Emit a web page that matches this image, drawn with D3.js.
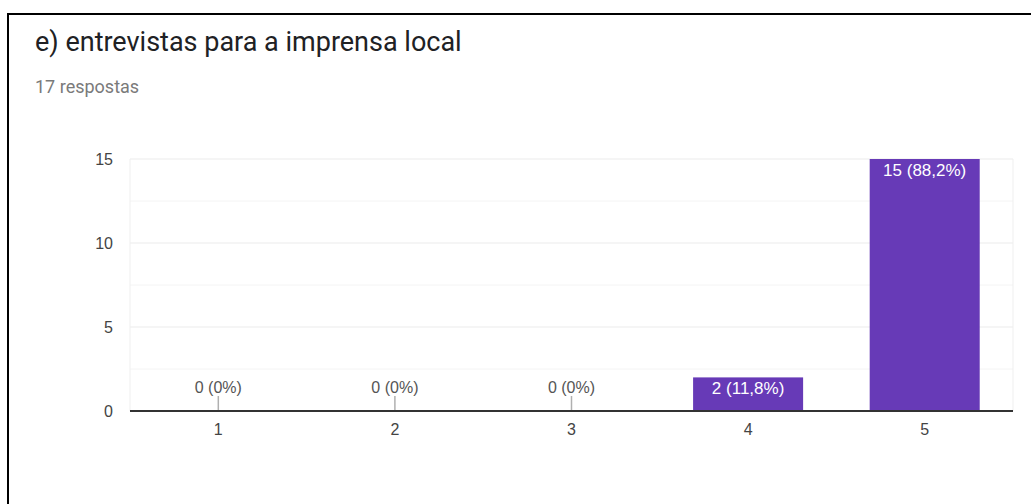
<!DOCTYPE html>
<html>
<head>
<meta charset="utf-8">
<script src="https://cdnjs.cloudflare.com/ajax/libs/d3/7.8.5/d3.min.js"></script>
<style>
  html, body { margin: 0; padding: 0; background: #fff; }
  svg { display: block; font-family: "Liberation Sans", Arial, sans-serif; }
</style>
</head>
<body>
<svg id="chart" width="1031" height="504"></svg>
<script>
// dados do gráfico
const categories = ['1', '2', '3', '4', '5'];
const counts = [0, 0, 0, 2, 15];
const valueLabels = ['0 (0%)', '0 (0%)', '0 (0%)', '2 (11,8%)', '15 (88,2%)'];
const yTicks = [0, 5, 10, 15];
const minorTicks = [2.5, 7.5, 12.5];

const svg = d3.select('#chart');

// moldura (só topo e esquerda)
svg.append('rect').attr('x', 7).attr('y', 13).attr('width', 1024).attr('height', 2).attr('fill', '#000');
svg.append('rect').attr('x', 7).attr('y', 13).attr('width', 2).attr('height', 491).attr('fill', '#000');

// títulos
svg.append('text')
  .attr('x', 35).attr('y', 51)
  .attr('font-family', 'Roboto, sans-serif')
  .attr('font-size', 27).attr('fill', '#202124')
  .text('e) entrevistas para a imprensa local');

svg.append('text')
  .attr('x', 35).attr('y', 93)
  .attr('font-family', 'Roboto, sans-serif')
  .attr('font-size', 18).attr('fill', '#7a7a7a')
  .text('17 respostas');

const plot = { left: 130, right: 1013, top: 159, bottom: 411 };

const x = d3.scaleBand()
  .domain(categories)
  .range([plot.left, plot.right])
  .paddingInner(0.377)
  .paddingOuter(0.1885);

const y = d3.scaleLinear()
  .domain([0, 15])
  .range([plot.bottom, plot.top]);

const g = svg.append('g');

// linhas de grade secundárias
g.selectAll('line.minor')
  .data(minorTicks)
  .enter()
  .append('line')
  .attr('x1', plot.left).attr('x2', plot.right)
  .attr('y1', d => y(d)).attr('y2', d => y(d))
  .attr('stroke', '#f4f4f4').attr('stroke-width', 1);

// linhas de grade principais
g.selectAll('line.major')
  .data(yTicks.filter(d => d > 0))
  .enter()
  .append('line')
  .attr('x1', plot.left).attr('x2', plot.right)
  .attr('y1', d => y(d)).attr('y2', d => y(d))
  .attr('stroke', '#ebebeb').attr('stroke-width', 1);

// bordas laterais claras
[plot.left, plot.right].forEach(px => {
  g.append('line')
    .attr('x1', px).attr('x2', px)
    .attr('y1', plot.top).attr('y2', plot.bottom)
    .attr('stroke', '#efefef');
});

// eixo y
const yAxis = d3.axisLeft(y).tickValues(yTicks).tickSize(0).tickPadding(17);
svg.append('g')
  .attr('transform', `translate(${plot.left},0)`)
  .call(yAxis)
  .call(s => s.select('.domain').remove())
  .call(s => s.selectAll('text')
    .attr('font-size', 16).attr('fill', '#444').attr('font-family', '"Liberation Sans", Arial, sans-serif'));

// barras
g.selectAll('rect.bar')
  .data(counts)
  .enter()
  .append('rect')
  .attr('class', 'bar')
  .attr('x', (d, i) => x(categories[i]))
  .attr('y', d => y(d))
  .attr('width', x.bandwidth())
  .attr('height', d => plot.bottom - y(d))
  .attr('fill', '#673ab7');

// marcadores das barras vazias
g.selectAll('line.stub')
  .data(counts.map((d, i) => ({ d, i })).filter(o => o.d === 0))
  .enter()
  .append('line')
  .attr('x1', o => x(categories[o.i]) + x.bandwidth() / 2)
  .attr('x2', o => x(categories[o.i]) + x.bandwidth() / 2)
  .attr('y1', plot.bottom - 15).attr('y2', plot.bottom)
  .attr('stroke', '#b0b0b0').attr('stroke-width', 1.5);

// rótulos de valor
g.selectAll('text.val')
  .data(counts)
  .enter()
  .append('text')
  .attr('x', (d, i) => x(categories[i]) + x.bandwidth() / 2)
  .attr('y', d => d === 0 ? plot.bottom - 18 : y(d) + 17)
  .attr('text-anchor', 'middle')
  .attr('font-size', d => d === 0 ? 16 : 17)
  .attr('fill', d => d === 0 ? '#555' : '#fff')
  .text((d, i) => valueLabels[i]);

// eixo x
const xAxis = d3.axisBottom(x).tickSize(0).tickPadding(13);
svg.append('g')
  .attr('transform', `translate(0,${plot.bottom})`)
  .call(xAxis)
  .call(s => s.select('.domain').remove())
  .call(s => s.selectAll('text')
    .attr('font-size', 16).attr('fill', '#444').attr('font-family', '"Liberation Sans", Arial, sans-serif'));

// linha de base
svg.append('line')
  .attr('x1', plot.left).attr('x2', plot.right)
  .attr('y1', plot.bottom).attr('y2', plot.bottom)
  .attr('stroke', '#333').attr('stroke-width', 2);
</script>
</body>
</html>
